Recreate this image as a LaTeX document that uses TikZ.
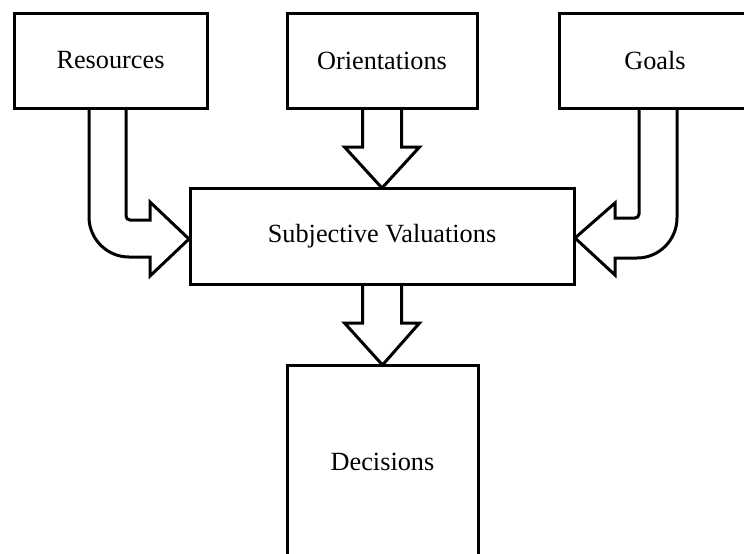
\documentclass[tikz,border=0pt]{standalone}
\usepackage{fontspec}
\setmainfont{Liberation Serif}
\usetikzlibrary{calc}

\tikzset{
  box/.style={draw, line width=2.25pt, fill=white, inner sep=0pt, outer sep=0pt,
              font=\fontsize{19.7}{23}\selectfont},
  fatarrow/.style={draw, line width=2.25pt, line join=miter},
}

\begin{document}
\begin{tikzpicture}[x=0.75pt, y=-0.75pt]
  \useasboundingbox (0,0) rectangle (744,554);
  \clip (0,0) rectangle (744,554);

  % boxes
  \node[box, minimum width=144.75pt, minimum height=71.25pt] (res)  at (110.5,60.5) {Resources};
  \node[box, minimum width=142.5pt,  minimum height=71.25pt] (ori)  at (382,60.5)   {Orientations};
  \node[box, minimum width=144pt,    minimum height=71.25pt] (goal) at (655,60.5)   {Goals};
  \node[box, minimum width=288pt,    minimum height=72pt]    (sv)   at (382,236)    {Subjective Valuations};
  \node[box, minimum width=143.25pt, minimum height=145.5pt] (dec)  at (382.5,462)  {Decisions};

  % straight block arrow: Orientations -> Subjective Valuations
  \draw[fatarrow]
    ($(ori.south)+(-19.5,0)$) -- ++(0,39) -- ++(-18,0)
    -- (sv.north)
    -- ($(ori.south)+(37.5,39)$) -- ++(-18,0)
    -- ($(ori.south)+(19.5,0)$);

  % straight block arrow: Subjective Valuations -> Decisions
  \draw[fatarrow]
    ($(sv.south)+(-19.5,0)$) -- ++(0,39) -- ++(-18,0)
    -- (dec.north)
    -- ($(sv.south)+(37.5,39)$) -- ++(-18,0)
    -- ($(sv.south)+(19.5,0)$);

  % bent block arrow: Resources -> Subjective Valuations
  \draw[fatarrow]
    ($(res.south west)+(75,0)$) -- (89,217)
    .. controls (89,239) and (107,257) .. (129,257)
    -- (150,257) -- (150,276)
    -- ($(sv.west)+(-1,3)$)
    -- (150,202) -- (150,220)
    [rounded corners=3pt] -- (126,220) [sharp corners]
    -- ($(res.south west)+(112,0)$);

  % bent block arrow: Goals -> Subjective Valuations
  \draw[fatarrow]
    ($(goal.south west)+(80,0)$)
    [rounded corners=3pt] -- (639,218) [sharp corners]
    -- (615,218) -- (615,203)
    -- ($(sv.east)+(1,2)$)
    -- (615,275) -- (615,258) -- (637,258)
    .. controls (659,258) and (677,240) .. (677,218)
    -- ($(goal.south west)+(118,0)$);
\end{tikzpicture}
\end{document}
